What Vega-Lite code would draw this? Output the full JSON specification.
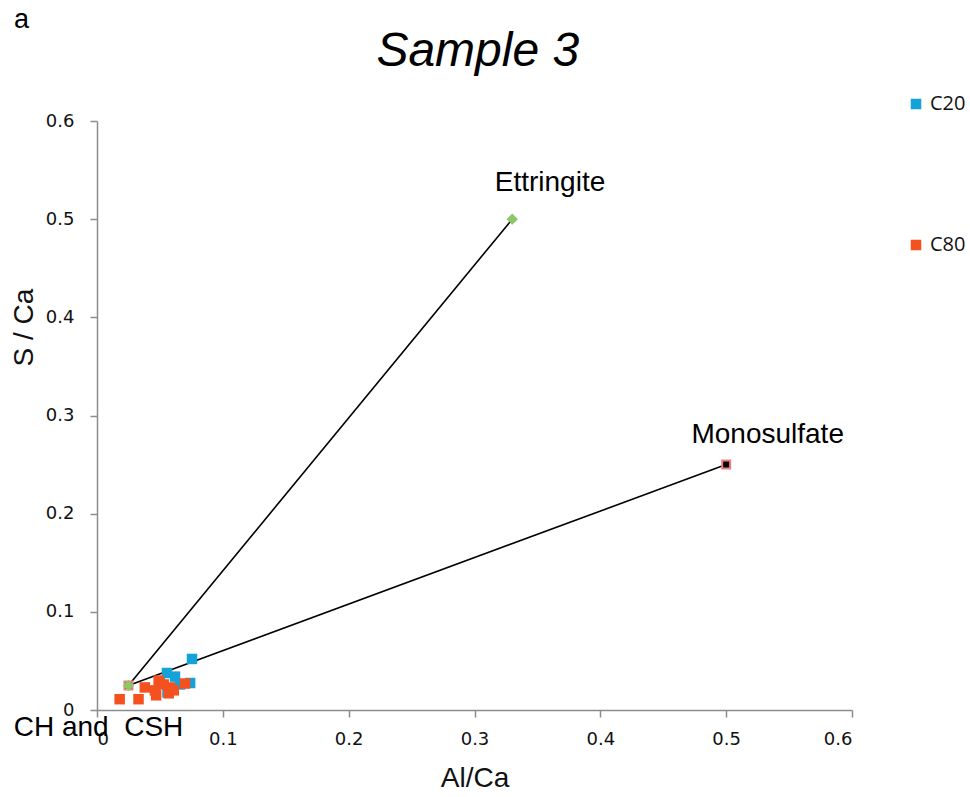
{
  "$schema": "https://vega.github.io/schema/vega-lite/v6.json",
  "width": 755,
  "height": 589,
  "autosize": "none",
  "padding": {"left": 97, "top": 121, "right": 118, "bottom": 87},
  "background": "white",
  "config": {
    "view": {"stroke": null},
    "font": "Liberation Sans",
    "axis": {"grid": false, "domainColor": "#8c8c8c", "tickColor": "#8c8c8c", "domainWidth": 1.5, "tickWidth": 1.5, "tickSize": 7, "labelFont": "DejaVu Sans", "labelFontSize": 18, "labelColor": "#111", "titleFont": "Liberation Sans", "titleFontSize": 28, "titleFontWeight": "normal", "titleColor": "#111"}
  },
  "datasets": {
    "samples": [
      {"series": "C20", "al": 0.0755, "s": 0.052},
      {"series": "C20", "al": 0.0556, "s": 0.0377},
      {"series": "C20", "al": 0.062, "s": 0.034},
      {"series": "C20", "al": 0.074, "s": 0.0275},
      {"series": "C20", "al": 0.056, "s": 0.018},
      {"series": "C20", "al": 0.066, "s": 0.026},
      {"series": "C20", "al": 0.05, "s": 0.028},
      {"series": "C20", "al": 0.06, "s": 0.022},
      {"series": "C80", "al": 0.018, "s": 0.011},
      {"series": "C80", "al": 0.033, "s": 0.011},
      {"series": "C80", "al": 0.038, "s": 0.023},
      {"series": "C80", "al": 0.046, "s": 0.02},
      {"series": "C80", "al": 0.047, "s": 0.015},
      {"series": "C80", "al": 0.049, "s": 0.03},
      {"series": "C80", "al": 0.058, "s": 0.023},
      {"series": "C80", "al": 0.057, "s": 0.017},
      {"series": "C80", "al": 0.07, "s": 0.027},
      {"series": "C80", "al": 0.061, "s": 0.02},
      {"series": "C80", "al": 0.053, "s": 0.026}
    ],
    "phases": [
      {"phase": "Ettringite", "al": 0.025, "s": 0.025},
      {"phase": "Ettringite", "al": 0.33, "s": 0.5},
      {"phase": "Monosulfate", "al": 0.025, "s": 0.025},
      {"phase": "Monosulfate", "al": 0.5, "s": 0.25}
    ],
    "labels": [
      {"text": "Ettringite", "al": 0.36, "s": 0.537},
      {"text": "Monosulfate", "al": 0.533, "s": 0.28},
      {"text": "CH and\u00a0 CSH", "al": 0.0012, "s": -0.0185}
    ]
  },
  "layer": [
    {
      "data": {"name": "phases"},
      "mark": {"type": "line", "color": "#000", "strokeWidth": 1.6},
      "encoding": {
        "x": {"field": "al", "type": "quantitative", "scale": {"domain": [0, 0.6]}, "axis": {"values": [0, 0.1, 0.2, 0.3, 0.4, 0.5, 0.6], "title": "Al/Ca", "labelPadding": 13, "titlePadding": 16, "format": "~g"}},
        "y": {"field": "s", "type": "quantitative", "scale": {"domain": [0, 0.6]}, "axis": {"values": [0, 0.1, 0.2, 0.3, 0.4, 0.5, 0.6], "title": "S / Ca", "labelPadding": 16, "titlePadding": 7, "titleY": 206, "format": "~g"}},
        "detail": {"field": "phase"}
      }
    },
    {
      "data": {"name": "phases"},
      "transform": [{"filter": "datum.phase === 'Monosulfate'"}],
      "mark": {"type": "point", "shape": "square", "filled": true, "fill": "#000", "stroke": "#f08080", "strokeWidth": 2, "size": 64, "opacity": 1},
      "encoding": {
        "x": {"field": "al", "type": "quantitative"},
        "y": {"field": "s", "type": "quantitative"}
      }
    },
    {
      "data": {"name": "samples"},
      "mark": {"type": "point", "shape": "square", "filled": true, "size": 110, "opacity": 1},
      "encoding": {
        "x": {"field": "al", "type": "quantitative"},
        "y": {"field": "s", "type": "quantitative"},
        "color": {"field": "series", "type": "nominal", "scale": {"domain": ["C20", "C80"], "range": ["#14a3d9", "#f4511f"]},
          "legend": {"title": null, "orient": "none", "legendX": 809, "legendY": -27, "symbolType": "square", "symbolSize": 110, "labelFont": "Open Sans", "labelFontSize": 20, "labelColor": "#111", "rowPadding": 121, "labelOffset": 4}}
      }
    },
    {
      "data": {"name": "phases"},
      "transform": [{"filter": "datum.phase === 'Ettringite'"}],
      "mark": {"type": "point", "shape": "diamond", "filled": true, "color": "#8dc766", "size": 130, "opacity": 1},
      "encoding": {
        "x": {"field": "al", "type": "quantitative"},
        "y": {"field": "s", "type": "quantitative"}
      }
    },
    {
      "data": {"name": "labels"},
      "mark": {"type": "text", "font": "Liberation Sans", "fontSize": 28, "color": "#000", "baseline": "middle", "align": "center"},
      "encoding": {
        "x": {"field": "al", "type": "quantitative"},
        "y": {"field": "s", "type": "quantitative"},
        "text": {"field": "text"}
      }
    },
    {
      "data": {"values": [{"t": "Sample 3", "al": 0.3026, "s": 0.656}]},
      "mark": {"type": "text", "font": "Liberation Sans", "fontSize": 48, "fontStyle": "italic", "color": "#000", "align": "center", "baseline": "alphabetic"},
      "encoding": {
        "x": {"field": "al", "type": "quantitative"},
        "y": {"field": "s", "type": "quantitative"},
        "text": {"field": "t"}
      }
    },
    {
      "data": {"values": [{"t": "a", "al": -0.066, "s": 0.7026}]},
      "mark": {"type": "text", "font": "Liberation Sans", "fontSize": 27, "color": "#000", "align": "left", "baseline": "middle"},
      "encoding": {
        "x": {"field": "al", "type": "quantitative"},
        "y": {"field": "s", "type": "quantitative"},
        "text": {"field": "t"}
      }
    }
  ]
}
